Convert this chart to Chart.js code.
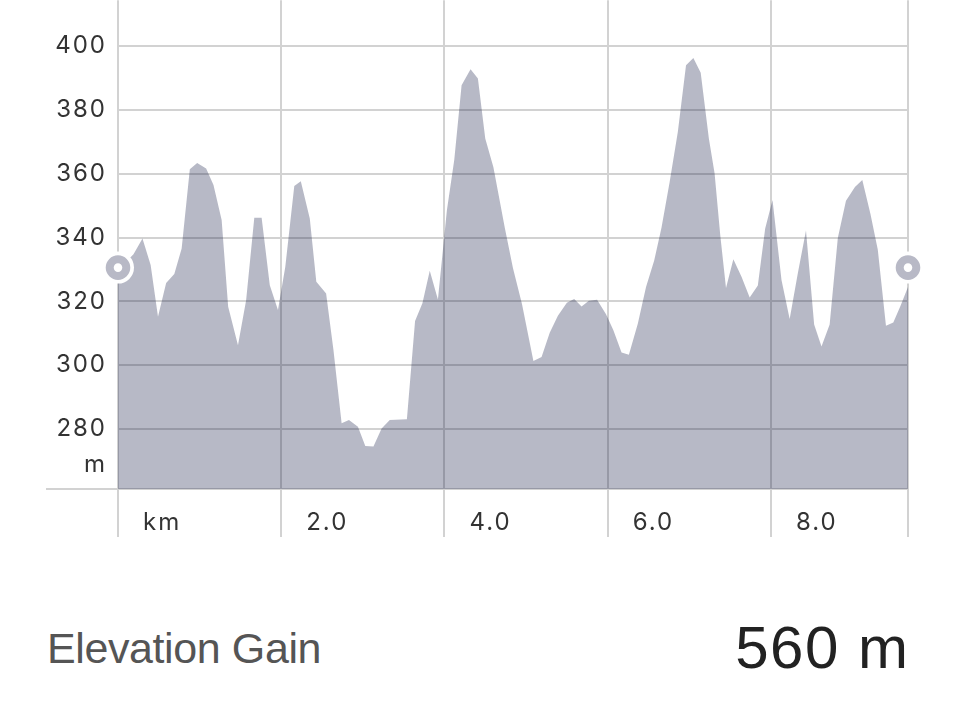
<!DOCTYPE html>
<html>
<head>
<meta charset="utf-8">
<script src="https://cdn.jsdelivr.net/npm/chart.js@4"></script>
<style>
  html, body { margin: 0; padding: 0; background: #fff; }
  body { width: 958px; height: 718px; position: relative; overflow: hidden; }
  /* chart area starts 16px into the canvas, so pull the canvas up */
  #chartBox { position: absolute; left: 0; top: -16px; width: 958px; height: 556px; }
  .gain-label { position: absolute; left: 47px; top: 627px; font-family: "Liberation Sans", Arial, sans-serif; font-size: 43px; line-height: 43px; color: #555; letter-spacing: -0.4px; }
  .gain-value { position: absolute; right: 48.5px; top: 618px; font-family: "Liberation Sans", Arial, sans-serif; font-size: 60px; line-height: 60px; color: #222; letter-spacing: 1.5px; }
</style>
</head>
<body>
<div id="chartBox"><canvas id="elev"></canvas></div>
<div class="gain-label">Elevation Gain</div>
<div class="gain-value">560 m</div>
<script>
// profile (km, m)
const distanceKm = [0.00, 0.19, 0.30, 0.40, 0.49, 0.59, 0.69, 0.78, 0.88, 0.97,
  1.08, 1.17, 1.27, 1.35, 1.47, 1.57, 1.67, 1.76, 1.86, 1.96,
  2.05, 2.16, 2.24, 2.35, 2.43, 2.55, 2.64, 2.74, 2.83, 2.94,
  3.03, 3.13, 3.23, 3.33, 3.54, 3.64, 3.73, 3.82, 3.92,
  4.03, 4.12, 4.21, 4.32, 4.41, 4.50, 4.60, 4.74, 4.84, 4.95,
  5.09, 5.19, 5.29, 5.39, 5.50, 5.59, 5.68, 5.77, 5.87, 5.98,
  6.07, 6.17, 6.26, 6.37, 6.47, 6.57, 6.66, 6.76, 6.86, 6.96,
  7.05, 7.14, 7.24, 7.31, 7.38, 7.45, 7.54, 7.64, 7.74, 7.84, 7.93,
  8.02, 8.13, 8.23, 8.33, 8.43, 8.53, 8.62, 8.72, 8.82, 8.92,
  9.03, 9.12, 9.22, 9.31, 9.41, 9.50, 9.59, 9.68];
const elevationM = [329.8, 334.8, 339.7, 331.4, 315.2, 325.8, 328.6, 336.6, 361.4, 363.4,
  361.7, 356.5, 345.5, 318.3, 306.3, 320.4, 346.2, 346.2, 325.1, 317.3,
  330.9, 356.2, 357.7, 346.0, 326.2, 322.5, 304.8, 281.8, 282.8, 280.7,
  274.7, 274.5, 280.2, 282.8, 283.1, 313.9, 319.4, 329.6, 320.6,
  348.6, 364.3, 387.8, 392.8, 389.9, 371.1, 362.1, 343.0, 330.4, 319.2,
  301.3, 302.6, 310.2, 315.5, 319.6, 320.8, 318.4, 320.2, 320.5, 316.0,
  311.0, 304.0, 303.3, 313.1, 324.5, 332.8, 343.2, 357.5, 373.2, 394.0,
  396.3, 391.7, 371.1, 360.2, 340.7, 324.2, 333.2, 327.7, 321.2, 325.0, 342.9,
  351.8, 326.7, 314.5, 328.8, 342.2, 312.8, 305.9, 312.8, 339.9, 351.6,
  355.9, 358.1, 347.4, 336.2, 312.4, 313.4, 318.7, 324.5];

// start / finish markers
const endpointKm = [0, 9.68];
const endpointElev = [330.6, 330.6];

const xTickValues = [0, 2, 4, 6, 8, 9.68];
const xTickLabels = ['km', '2.0', '4.0', '6.0', '8.0', ''];
const yTickValues = [280, 300, 320, 340, 360, 380, 400];
const yUnitTick = 268.7;
const yUnitLabel = 'm';
const xMin = 0, xMax = 9.68;
const yMin = 261.2, yMax = 414.4;

const profile = distanceKm.map((d, i) => ({ x: d, y: elevationM[i] }));
const endpoints = endpointKm.map((d, i) => ({ x: d, y: endpointElev[i] }));

const gridGray = '#d2d2d2';
const clear = 'rgba(0,0,0,0)';
const tickFont = { family: 'Inter', size: 24 };

// wider tracking on the axis labels
const spacing = {
  id: 'spacing',
  beforeDraw: chart => { chart.ctx.letterSpacing = '2px'; }
};

new Chart(document.getElementById('elev'), {
  type: 'line',
  plugins: [spacing],
  data: {
    datasets: [
      { // ring marker
        data: endpoints, showLine: false, clip: false, order: 0,
        pointRadius: 8.3, pointBorderWidth: 8,
        pointBackgroundColor: '#fff', pointBorderColor: '#b8b9c6'
      },
      { // white halo under marker
        data: endpoints, showLine: false, clip: false, order: 1,
        pointRadius: 16, pointBorderWidth: 0,
        pointBackgroundColor: '#fff', pointBorderColor: '#fff'
      },
      {
        data: profile, order: 2,
        fill: 'start', backgroundColor: 'rgba(18,22,65,0.3)',
        borderWidth: 0, borderColor: clear, pointRadius: 0, tension: 0
      }
    ]
  },
  options: {
    responsive: true,
    maintainAspectRatio: false,
    animation: false,
    devicePixelRatio: 1,
    layout: { padding: { left: 0, top: 0, right: 50, bottom: 0 } },
    plugins: { legend: { display: false }, tooltip: { enabled: false } },
    scales: {
      x: {
        type: 'linear', min: xMin, max: xMax,
        afterBuildTicks: s => { s.ticks = xTickValues.map(v => ({ value: v })); },
        afterFit: s => { s.height = 51; s.paddingLeft = 0; s.paddingRight = 0; },
        border: { display: false },
        grid: { color: gridGray, lineWidth: 2, tickLength: 48, tickColor: gridGray },
        ticks: {
          align: 'start', labelOffset: 25, padding: -29,
          color: '#333', font: tickFont, autoSkip: false, maxRotation: 0,
          callback: (v, i) => xTickLabels[i]
        }
      },
      y: {
        min: yMin, max: yMax,
        afterBuildTicks: s => { s.ticks = [yMin, yUnitTick, ...yTickValues].map(v => ({ value: v })); },
        afterFit: s => { s.width = 118; s.paddingTop = 0; s.paddingBottom = 0; },
        border: { display: false },
        grid: {
          lineWidth: 2, tickLength: 72,
          color: ctx => (ctx.tick && ctx.tick.value === yUnitTick) ? clear : gridGray,
          tickColor: ctx => (ctx.tick && ctx.tick.value === yMin) ? gridGray : clear
        },
        ticks: {
          padding: -61, color: '#333', font: tickFont, autoSkip: false,
          callback: v => v === yMin ? '' : (v === yUnitTick ? yUnitLabel : String(v))
        }
      }
    }
  }
});
</script>
</body>
</html>
